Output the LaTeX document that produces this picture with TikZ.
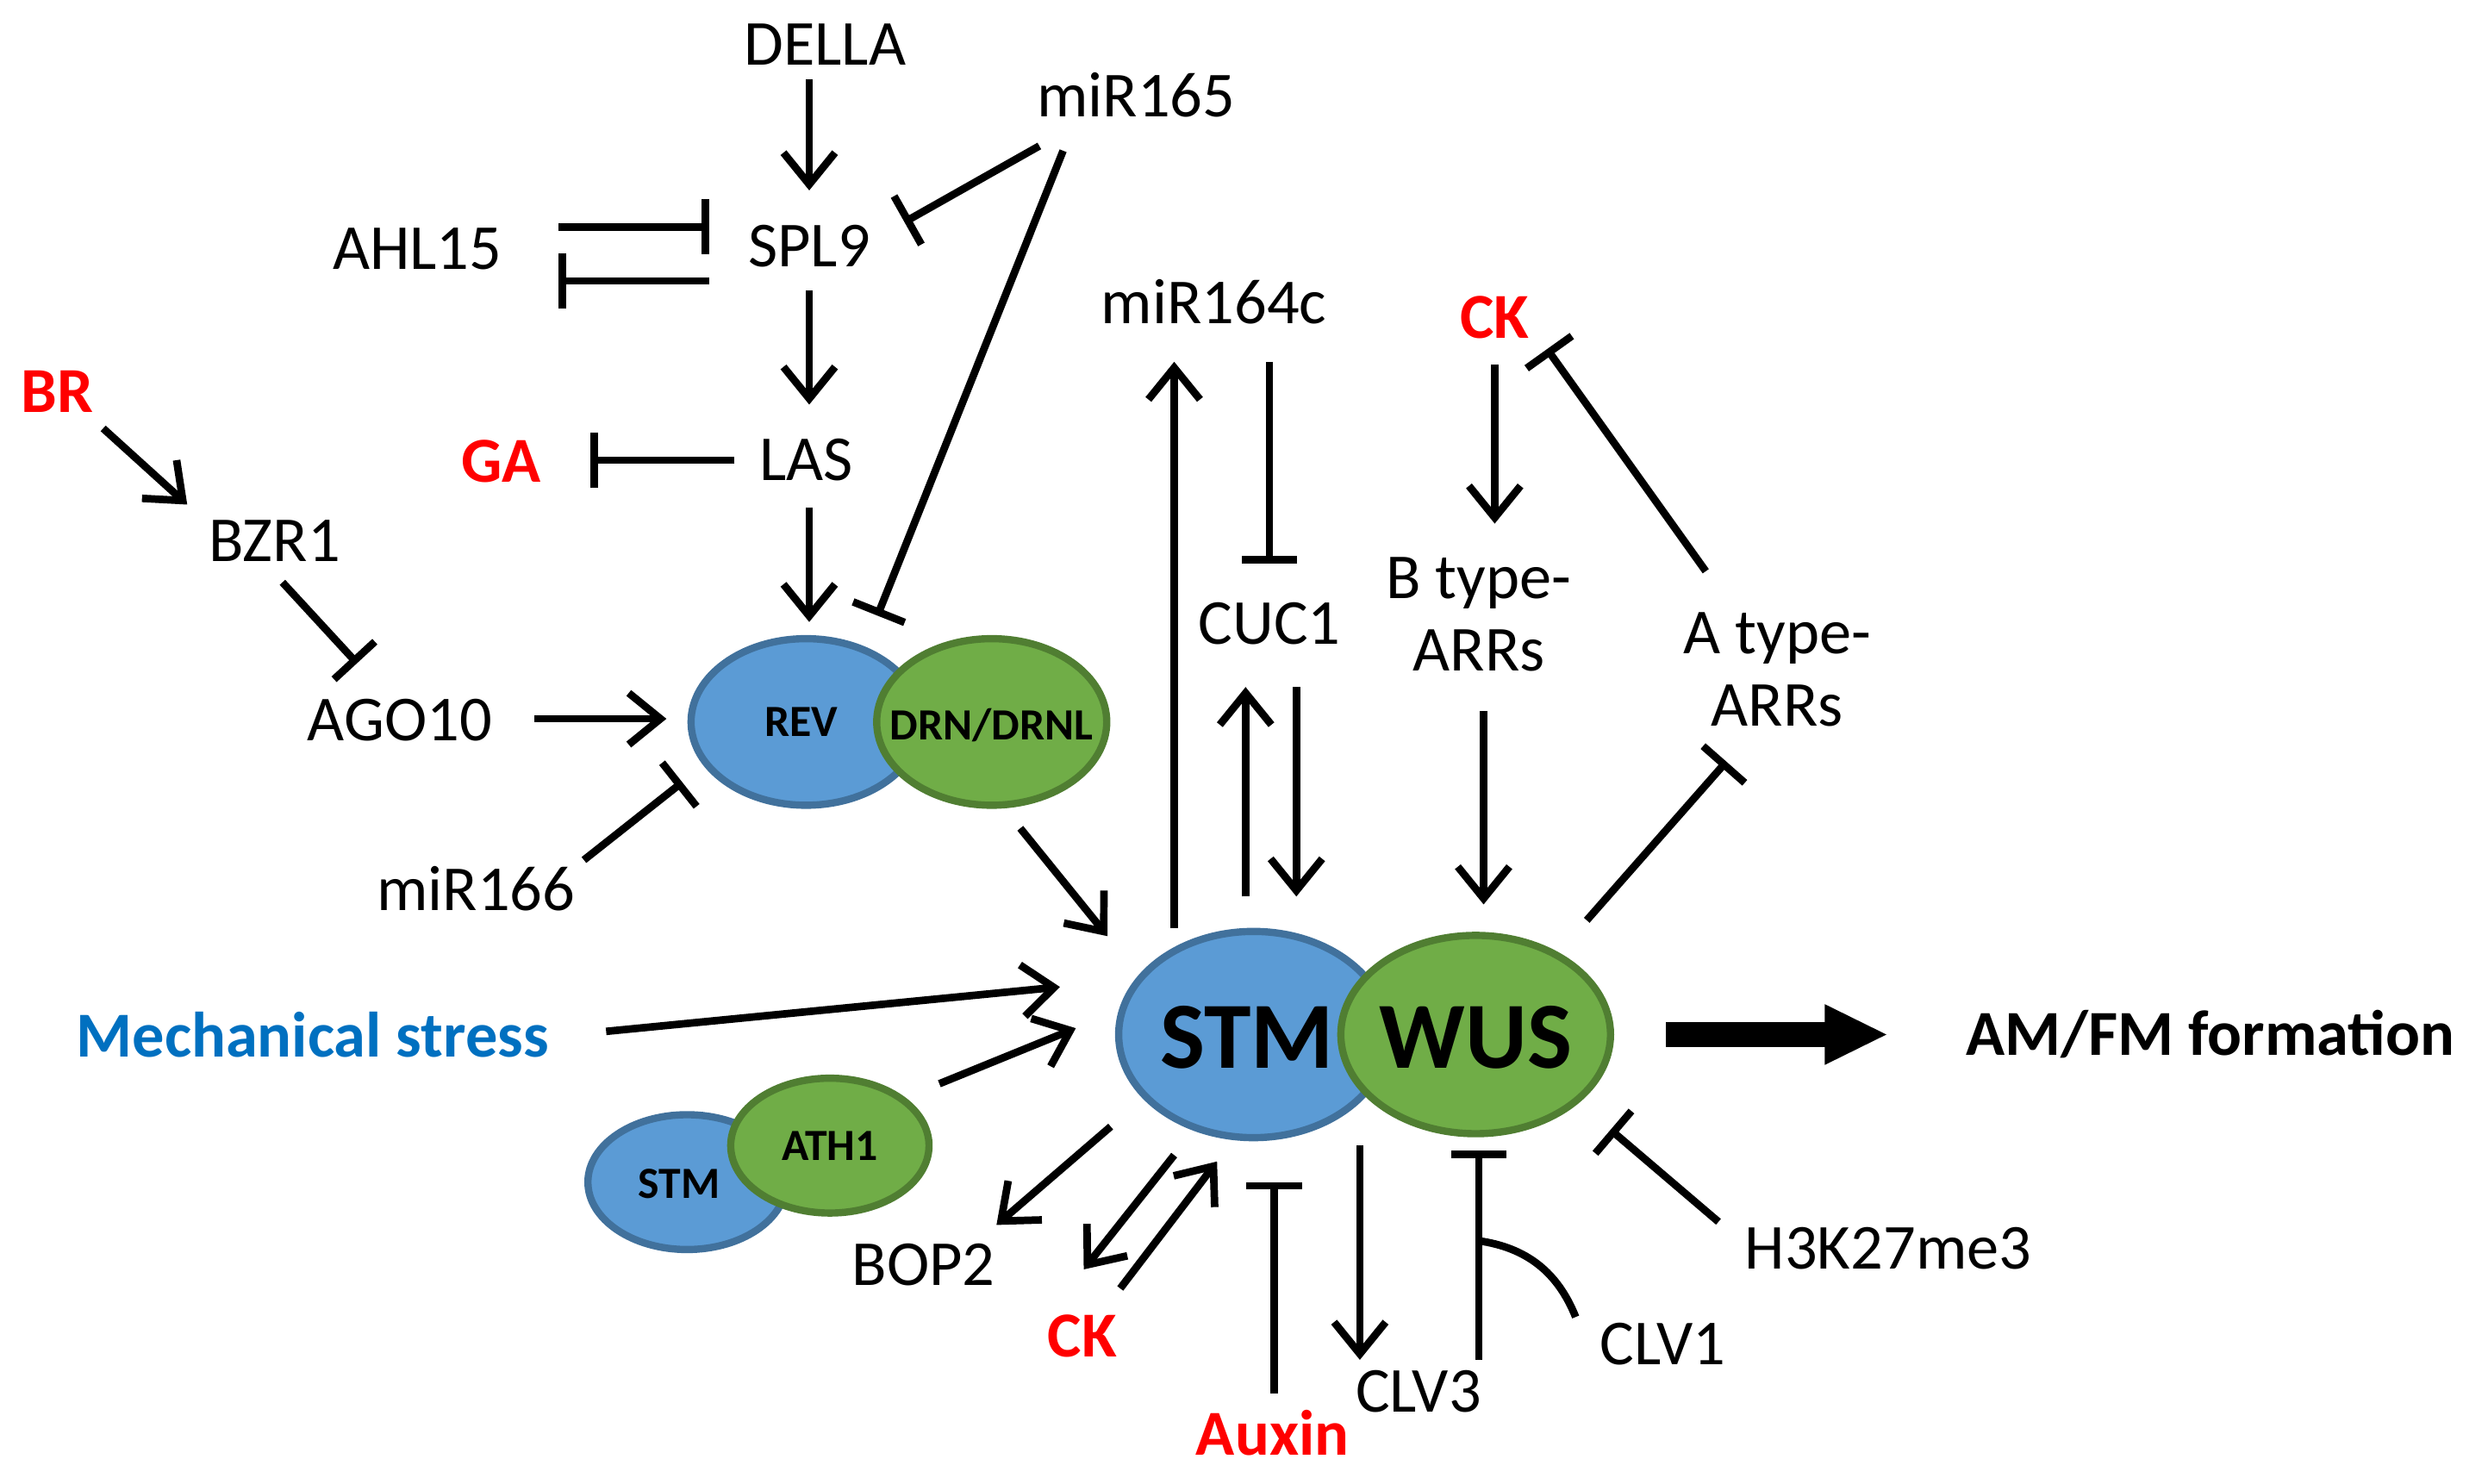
\documentclass[tikz,border=0pt]{standalone}
\usepackage{fontspec}
\setmainfont{Carlito}
\usetikzlibrary{calc}
\usetikzlibrary{arrows.meta}
\definecolor{stmblue}{HTML}{5B9BD5}
\definecolor{stmedge}{HTML}{41719C}
\definecolor{wusgreen}{HTML}{70AD47}
\definecolor{wusedge}{HTML}{507E32}
\definecolor{mechblue}{HTML}{0070C0}
\tikzstyle{lbl} = [font=\fontsize{23}{26}\selectfont, inner sep=1pt]
\tikzstyle{hormone} = [lbl, text=red, font=\fontsize{23}{26}\selectfont\bfseries]
\tikzstyle{act} = [line width=2.7pt, -{Straight Barb[length=4mm,width=6.5mm,line width=2.7pt]}]
\tikzstyle{inh} = [line width=2.7pt, -{Bar[width=7mm,line width=2.7pt]}]
\tikzstyle{blueell} = [draw=stmedge, line width=2.6pt, fill=stmblue, ellipse]
\tikzstyle{greenell} = [draw=wusedge, line width=2.6pt, fill=wusgreen, ellipse]
\usetikzlibrary{shapes.geometric}

\begin{document}
\begin{tikzpicture}[x=0.02cm, y=-0.02cm]
    \useasboundingbox (0,0) rectangle (1568,935);
    % upper left branch
    \node[lbl] (della) at (520,28) {DELLA};
    \node[lbl] (mir165) at (716,60) {miR165};
    \node[lbl] (spl9) at (510,155) {SPL9};
    \node[lbl] (ahl15) at (263,157) {AHL15};
    \node[hormone] (br) at (36,247) {BR};
    \node[hormone] (ga) at (316,291) {GA};
    \node[lbl] (las) at (508,290) {LAS};
    \node[lbl] (bzr1) at (173,341) {BZR1};
    \node[lbl] (ago10) at (252,454) {AGO10};
    \node[lbl] (mir166) at (300,560) {miR166};
    \node[blueell, minimum width=2.9cm, minimum height=2.1cm] (rev) at (508,455) {};
    \node[greenell, minimum width=2.9cm, minimum height=2.1cm] (drn) at (625,455) {};
    \node[font=\bfseries\fontsize{16}{18}\selectfont] at (505,455) {REV};
    \node[font=\bfseries\fontsize{16}{18}\selectfont] at (625,457) {DRN/DRNL};
    % right side
    \node[lbl] (mir164c) at (765,190) {miR164c};
    \node[hormone] (cktop) at (942,200) {CK};
    \node[lbl] (cuc1) at (800,393) {CUC1};
    \node[lbl, align=center] (btype) at (932,387) {B type-\\ARRs};
    \node[lbl, align=center] (atype) at (1120,422) {A type-\\ARRs};
    % core complex
    \node[blueell, minimum width=3.4cm, minimum height=2.6cm] (stm) at (790,652) {};
    \node[greenell, minimum width=3.4cm, minimum height=2.5cm] (wus) at (930,652) {};
    \node[font=\bfseries\fontsize{34}{38}\selectfont] at (786,654) {STM};
    \node[font=\bfseries\fontsize{34}{38}\selectfont] at (930,654) {WUS};
    \node[lbl, text=mechblue, font=\fontsize{23}{26}\selectfont\bfseries] (mech) at (197,652) {Mechanical stress};
    \node[blueell, minimum width=2.5cm, minimum height=1.7cm] (stms) at (433,745) {};
    \node[greenell, minimum width=2.5cm, minimum height=1.7cm] (ath1) at (523,722) {};
    \node[font=\bfseries\fontsize{16}{18}\selectfont] at (428,746) {STM};
    \node[font=\bfseries\fontsize{16}{18}\selectfont] at (523,722) {ATH1};
    \node[lbl, font=\fontsize{23}{26}\selectfont\bfseries] (amfm) at (1393,652) {AM/FM formation};
    % lower row
    \node[lbl] (bop2) at (582,797) {BOP2};
    \node[hormone] (ckbot) at (682,842) {CK};
    \node[hormone] (auxin) at (802,903) {Auxin};
    \node[lbl] (clv3) at (894,877) {CLV3};
    \node[lbl] (clv1) at (1048,847) {CLV1};
    \node[lbl] (h3k) at (1190,787) {H3K27me3};

    \draw[act] ($(della)+(-10,22)$) -- ($(spl9)+(0,-35)$);
    \draw[inh] ($(mir165)+(-61,32)$) -- ($(spl9)+(60,-15)$);
    \draw[inh] ($(ahl15)+(89,-14)$) -- ($(spl9)+(-63,-12)$);
    \draw[inh] ($(spl9)+(-63,22)$) -- ($(ahl15)+(89,20)$);
    \draw[act] ($(spl9)+(0,28)$) -- ($(las)+(2,-35)$);
    \draw[inh] ($(las)+(-45,0)$) -- ($(ga)+(56,-1)$);
    \draw[inh] ($(mir165)+(-46,35)$) -- ($(drn)+(-72,-67)$);
    \draw[act] ($(las)+(2,30)$) -- ($(rev)+(2,-63)$);
    \draw[act] ($(br)+(29,23)$) -- ($(bzr1)+(-55,-23)$);
    \draw[inh] ($(bzr1)+(5,26)$) -- ($(ago10)+(-27,-36)$);
    \draw[act] ($(ago10)+(85,-1)$) -- ($(rev)+(-88,-2)$);
    \draw[inh] ($(mir166)+(68,-18)$) -- ($(rev)+(-78,38)$);
    \draw[act] ($(drn)+(18,67)$) -- ($(stm)+(-92,-62)$);
    \draw[act] ($(mech)+(185,-2)$) -- ($(stm)+(-122,-30)$);
    \draw[act] ($(ath1)+(69,-39)$) -- ($(stm)+(-112,-4)$);
    \draw[act] ($(stm)+(-50,-67)$) -- ($(mir164c)+(-25,38)$);
    \draw[inh] ($(mir164c)+(35,38)$) -- ($(cuc1)+(0,-38)$);
    \draw[act] ($(stm)+(-5,-87)$) -- ($(cuc1)+(-15,40)$);
    \draw[act] ($(cuc1)+(17,40)$) -- ($(stm)+(27,-87)$);
    \draw[act] ($(cktop)+(0,30)$) -- ($(btype)+(10,-57)$);
    \draw[inh] ($(atype)+(-45,-62)$) -- ($(cktop)+(33,20)$);
    \draw[act] ($(btype)+(3,61)$) -- ($(wus)+(5,-82)$);
    \draw[inh] ($(wus)+(70,-72)$) -- ($(atype)+(-32,58)$);
    \draw[line width=3.2mm, -{Triangle[length=8mm,width=7mm]}] ($(wus)+(120,0)$) -- ($(amfm)+(-203,0)$);
    \draw[act] ($(stm)+(-90,58)$) -- ($(bop2)+(46,-25)$);
    \draw[act] ($(stm)+(-50,76)$) -- ($(ckbot)+(1,-42)$);
    \draw[act] ($(ckbot)+(24,-30)$) -- ($(stm)+(-23,80)$);
    \draw[inh] ($(auxin)+(1,-25)$) -- ($(stm)+(13,93)$);
    \draw[act] ($(stm)+(67,70)$) -- ($(clv3)+(-37,-20)$);
    \draw[inh] ($(clv3)+(38,-20)$) -- ($(wus)+(2,73)$);
    \draw[line width=2.7pt] ($(clv1)+(-55,-17)$) to[bend right=30] ($(wus)+(2,130)$);
    \draw[inh] ($(h3k)+(-107,-17)$) -- ($(wus)+(85,60)$);
\end{tikzpicture}
\end{document}
